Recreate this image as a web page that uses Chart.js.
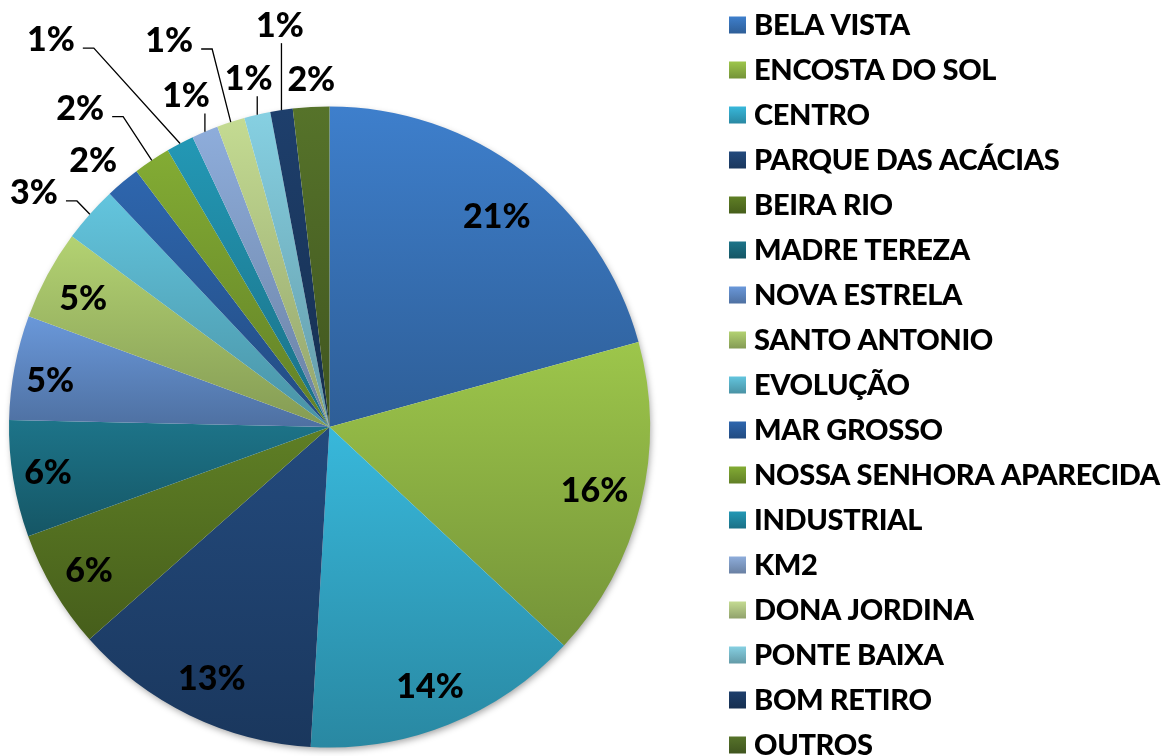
<!DOCTYPE html>
<html>
<head>
<meta charset="utf-8">
<style>
  html, body { margin: 0; padding: 0; background: #ffffff; overflow: hidden; }
  canvas { display: block; }
</style>
<script src="https://cdn.jsdelivr.net/npm/chart.js@4.4.1/dist/chart.umd.min.js"></script>
</head>
<body>
<canvas id="chart" width="1170" height="756"></canvas>
<script>
// ---------------- data ----------------
const categories = [
  'BELA VISTA', 'ENCOSTA DO SOL', 'CENTRO', 'PARQUE DAS ACÁCIAS', 'BEIRA RIO',
  'MADRE TEREZA', 'NOVA ESTRELA', 'SANTO ANTONIO', 'EVOLUÇÃO', 'MAR GROSSO',
  'NOSSA SENHORA APARECIDA', 'INDUSTRIAL', 'KM2', 'DONA JORDINA', 'PONTE BAIXA',
  'BOM RETIRO', 'OUTROS'
];
const shares = [20.73, 16.21, 14.00, 12.54, 5.99, 5.89, 5.26, 4.53, 2.83, 1.74,
                1.87, 1.40, 1.33, 1.41, 1.32, 1.13, 1.83];

// ---------------- styles ----------------
const topColors = [
  '#3e7fcc', '#9dc64b', '#38b8db', '#234a7d', '#5f7f25', '#1d7489',
  '#6a98da', '#b3d272', '#63c5de', '#2e66ae', '#83ac34', '#2398b5',
  '#8eaddb', '#c4db92', '#86d0e2', '#1e3f6c', '#56732a'
];
const shadeFactor = 0.74;

// label layout: angular offset from slice middle (degrees), distance as fraction of radius
const labelAngleOffset = [1.1, -0.4, 0.6, -0.8, 0.07, 0.35, -1.2, -0.7, -3.1, -1.3,
                          -4.3, -7.9, -0.5, -4.55, 0, 1.6, 0.3];
const labelRadius = [0.84, 0.85, 0.867, 0.864, 0.872, 0.889, 0.884, 0.868, 1.178, 1.113,
                     1.264, 1.49, 1.128, 1.307, 1.118, 1.264, 1.087];
const leaderLine = [0, 0, 0, 0, 0, 0, 0, 0, 1, 0, 1, 1, 1, 1, 1, 1, 0];

// ---------------- helpers ----------------
function toRgb(h) { const n = parseInt(h.slice(1), 16); return [(n >> 16) & 255, (n >> 8) & 255, n & 255]; }
function css(a) { return 'rgb(' + a.map(v => Math.round(Math.max(0, Math.min(255, v)))).join(',') + ')'; }
function darker(h, f) { return css(toRgb(h).map(v => v * f)); }

function sliceAngles(chart, i) {
  const data = chart.data.datasets[0].data;
  const total = data.reduce((s, v) => s + v, 0);
  let cum = 0;
  for (let k = 0; k < i; k++) cum += data[k];
  const s = -Math.PI / 2 + 2 * Math.PI * cum / total;
  const e = s + 2 * Math.PI * data[i] / total;
  return [s, e];
}

function sliceFill(c) {
  const chart = c.chart, i = c.dataIndex, a = chart.chartArea;
  if (!a || i === undefined) return topColors[i] || '#888888';
  const cx = (a.left + a.right) / 2, cy = (a.top + a.bottom) / 2;
  const R = Math.min(a.right - a.left, a.bottom - a.top) / 2;
  const [s, e] = sliceAngles(chart, i);
  const ys = [cy, cy + R * Math.sin(s), cy + R * Math.sin(e)];
  for (const t of [-Math.PI / 2, Math.PI / 2, 3 * Math.PI / 2]) {
    if (t >= s && t <= e) ys.push(cy + R * Math.sin(t));
  }
  const y0 = Math.min(...ys), y1 = Math.max(...ys);
  const g = chart.ctx.createLinearGradient(0, y0, 0, y1 + 0.01);
  g.addColorStop(0, topColors[i]);
  g.addColorStop(1, darker(topColors[i], shadeFactor));
  return g;
}

const decor = {
  id: 'decor',
  beforeDatasetsDraw(chart) {
    const el = chart.getDatasetMeta(0).data[0];
    if (!el) return;
    const p = el.getProps(['x', 'y', 'outerRadius'], true);
    const ctx = chart.ctx;
    ctx.save();
    ctx.shadowColor = 'rgba(0,0,0,0.38)';
    ctx.shadowBlur = 7;
    ctx.shadowOffsetX = 1.5;
    ctx.shadowOffsetY = 3;
    ctx.beginPath();
    ctx.arc(p.x, p.y, p.outerRadius - 1, 0, Math.PI * 2);
    ctx.fillStyle = '#ffffff';
    ctx.fill();
    ctx.restore();
  },
  afterDatasetsDraw(chart) {
    const ctx = chart.ctx;
    const meta = chart.getDatasetMeta(0);
    const data = chart.data.datasets[0].data;
    const total = data.reduce((s, v) => s + v, 0);
    ctx.save();
    // percentage labels
    const fs = 34;
    ctx.font = '900 ' + fs + 'px Lato';
    ctx.fillStyle = '#000000';
    ctx.strokeStyle = '#000000';
    ctx.lineWidth = 1.3;
    ctx.textAlign = 'center';
    ctx.textBaseline = 'alphabetic';
    const capH = fs * 0.72;
    meta.data.forEach((arc, i) => {
      const p = arc.getProps(['x', 'y', 'startAngle', 'endAngle', 'outerRadius'], true);
      const mid = (p.startAngle + p.endAngle) / 2;
      const ang = mid + labelAngleOffset[i] * Math.PI / 180;
      const r = p.outerRadius * labelRadius[i];
      const lx = p.x + Math.cos(ang) * r, ly = p.y + Math.sin(ang) * r;
      const text = Math.round(data[i] / total * 100) + '%';
      const w = ctx.measureText(text).width;
      ctx.fillText(text, lx, ly + capH / 2);
      if (leaderLine[i]) {
        const px = p.x + Math.cos(mid) * p.outerRadius, py = p.y + Math.sin(mid) * p.outerRadius;
        const left = lx - w / 2, right = lx + w / 2;
        ctx.beginPath();
        ctx.moveTo(px, py);
        if (px >= left && px <= right) {
          ctx.lineTo(px, ly + capH / 2 + 6);
        } else {
          ctx.lineTo(right + 19, ly + 9);
          ctx.lineTo(right + 8, ly + 9);
        }
        ctx.stroke();
      }
    });
    // legend
    const legendX = 729, legendBox = 17, legendTextX = 754, legendFirst = 25, legendStep = 45;
    const lfs = 29;
    ctx.font = '900 ' + lfs + 'px Lato';
    ctx.letterSpacing = '-0.35px';
    ctx.textAlign = 'left';
    chart.data.labels.forEach((name, i) => {
      const cy = legendFirst + i * legendStep;
      const g = ctx.createLinearGradient(0, cy - legendBox / 2, 0, cy + legendBox / 2);
      g.addColorStop(0, topColors[i]);
      g.addColorStop(1, darker(topColors[i], shadeFactor));
      ctx.fillStyle = g;
      ctx.fillRect(legendX, cy - legendBox / 2, legendBox, legendBox);
      ctx.fillStyle = '#000000';
      ctx.fillText(name, legendTextX, cy + lfs * 0.36);
    });
    ctx.restore();
  }
};

new Chart(document.getElementById('chart'), {
  type: 'pie',
  data: {
    labels: categories,
    datasets: [{
      data: shares,
      backgroundColor: sliceFill,
      borderWidth: 0,
      hoverOffset: 0
    }]
  },
  options: {
    responsive: false,
    animation: false,
    events: [],
    layout: { padding: { left: 9, right: 520, top: 106.5, bottom: 8.5 } },
    plugins: {
      legend: { display: false },
      tooltip: { enabled: false },
      title: { display: false }
    }
  },
  plugins: [decor]
});
</script>
</body>
</html>
